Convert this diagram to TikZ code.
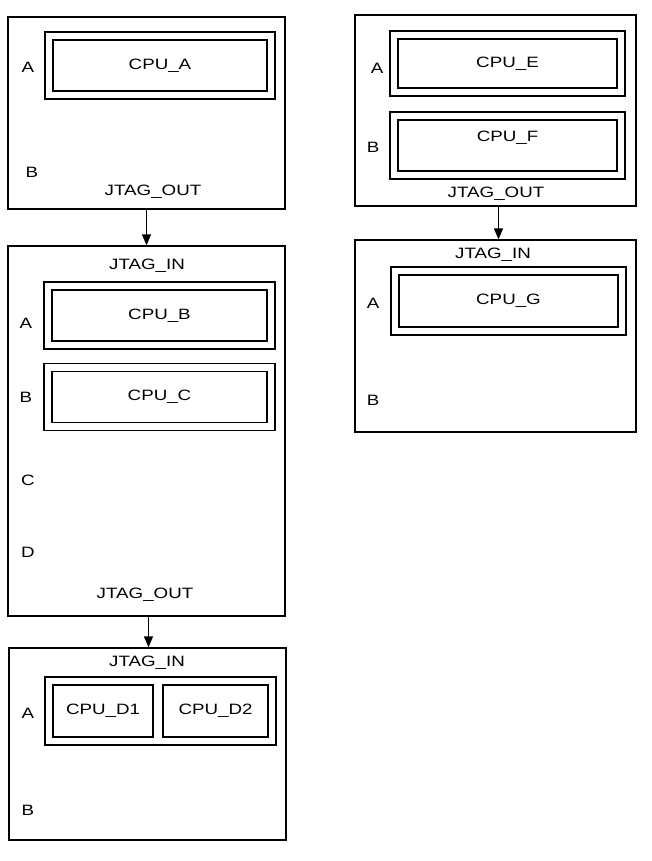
\documentclass[tikz,border=0pt]{standalone}
\usepackage{fontspec}
\setmainfont{Liberation Sans}[FakeStretch=1.25]
\usetikzlibrary{positioning,fit,arrows.meta}
\tikzset{
    board/.style={%
        draw, line width=1.3pt,
        inner sep=0pt
        },
    cpu/.style={%
        draw, line width=1.7pt,
        inner sep=0pt,
        minimum width=#1,
        minimum height=51pt,
        font=\fontsize{15}{17}\selectfont
        },
    cpu/.default=215pt,
    frame/.style={%
        draw, line width=1.6pt,
        inner sep=7pt
        },
    slot/.style={font=\fontsize{15}{17}\selectfont},
    jtag/.style={font=\fontsize{15}{17}\selectfont},
    >={Triangle[length=11pt,width=9pt]}
}

\begin{document}
\begin{tikzpicture}[x=1pt,y=-1pt]
\useasboundingbox (0,0) rectangle (651,861);

% left column
\node[board, fit={(8,17) (285,209)}] (boardA) {};
\node[cpu=214pt] at (160,65.5) (cpuA) {CPU\_A};
\node[frame, fit=(cpuA)] (frameA) {};
\node[slot] at (28,67) (slotA1) {A};
\node[slot] at (32,172) (slotA2) {B};
\node[jtag] at (153,192) (outA) {JTAG\_OUT};

\node[board, fit={(8,246) (285,616)}] (boardB) {};
\node[jtag] at (147,266) (inB) {JTAG\_IN};
\node[cpu] at (159.5,315.5) (cpuB) {CPU\_B};
\node[frame, fit=(cpuB)] (frameB) {};
\node[cpu] at (159.5,397) (cpuC) {CPU\_C};
\node[frame, fit=(cpuC)] (frameC) {};
\node[slot] at (26,323) (slotB1) {A};
\node[slot] at (26,397) (slotB2) {B};
\node[slot] at (28,480) (slotB3) {C};
\node[slot] at (28,552) (slotB4) {D};
\node[jtag] at (145,595) (outB) {JTAG\_OUT};

\node[board, fit={(9,648) (286,840)}] (boardD) {};
\node[jtag] at (147,663) (inD) {JTAG\_IN};
\node[cpu=100pt, minimum height=52pt] at (103,711) (cpuDa) {CPU\_D1};
\node[cpu=105pt, minimum height=52pt] at (215.5,711) (cpuDb) {CPU\_D2};
\node[frame, fit=(cpuDa) (cpuDb)] (frameD) {};
\node[slot] at (28,713) (slotD1) {A};
\node[slot] at (28,810) (slotD2) {B};

% right column
\node[board, fit={(355,15) (636,206)}] (boardE) {};
\node[cpu=219pt, minimum height=49pt] at (507.5,63.5) (cpuE) {CPU\_E};
\node[frame, fit=(cpuE)] (frameE) {};
\node[cpu=219pt, text depth=18pt] at (507.5,145.5) (cpuF) {CPU\_F};
\node[frame, fit=(cpuF)] (frameF) {};
\node[slot] at (377,68) (slotE1) {A};
\node[slot] at (373,147) (slotE2) {B};
\node[jtag] at (496,194) (outE) {JTAG\_OUT};

\node[board, fit={(355,240) (636,432)}] (boardG) {};
\node[jtag] at (493,255) (inG) {JTAG\_IN};
\node[cpu=219pt, minimum height=52pt] at (508.5,301) (cpuG) {CPU\_G};
\node[frame, fit=(cpuG)] (frameG) {};
\node[slot] at (373,303) (slotG1) {A};
\node[slot] at (373,400) (slotG2) {B};

% JTAG chain
\draw[->, line width=1.3pt] (boardA.south) -- (boardB.north);
\draw[->, line width=1.3pt] ([xshift=2pt]boardB.south) -- ([xshift=2pt]boardB.south |- boardD.north);
\draw[->, line width=1.3pt] ([xshift=3pt]boardE.south) -- ([xshift=3pt]boardE.south |- boardG.north);

\end{tikzpicture}
\end{document}
